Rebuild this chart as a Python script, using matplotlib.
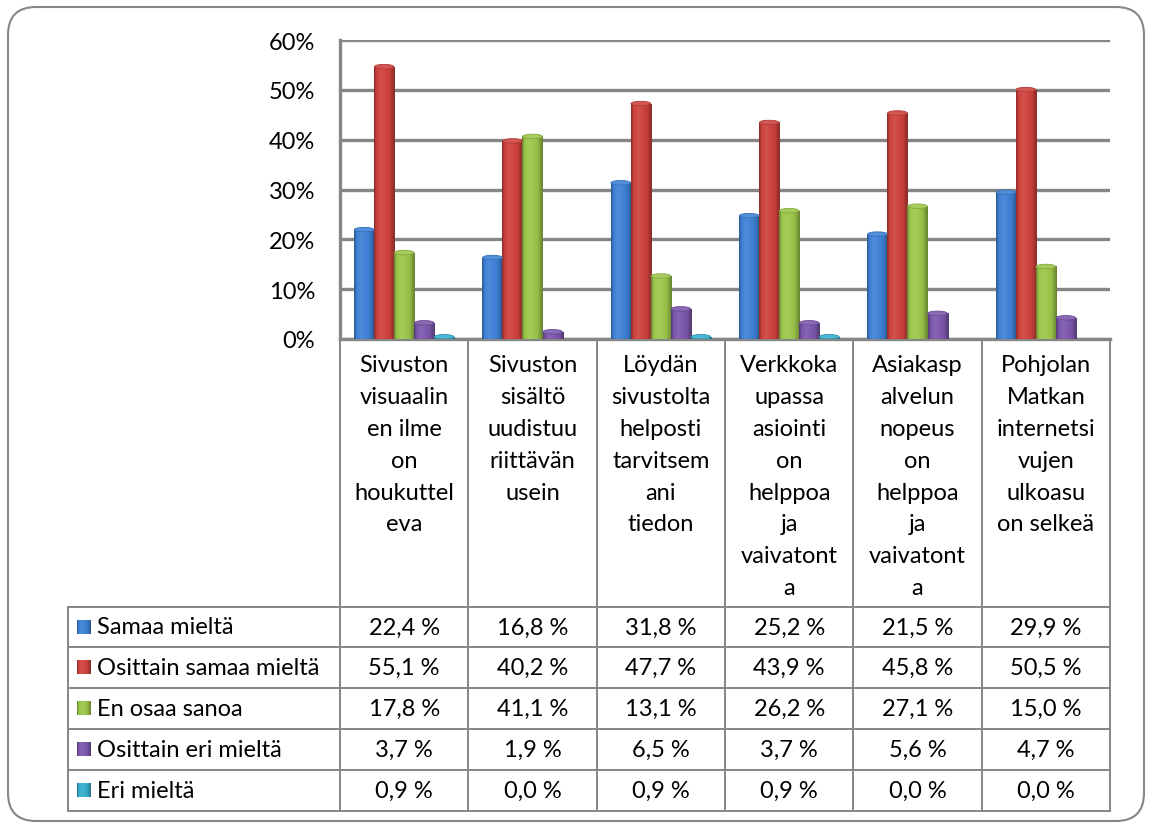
import numpy as np
import matplotlib.pyplot as plt
from matplotlib.patches import FancyBboxPatch, Ellipse
from matplotlib.colors import to_rgb

plt.rcParams['font.family'] = ['Lato', 'DejaVu Sans']

categories = [
    "Sivuston\nvisuaalin\nen ilme\non\nhoukuttel\neva",
    "Sivuston\nsisältö\nuudistuu\nriittävän\nusein",
    "Löydän\nsivustolta\nhelposti\ntarvitsem\nani\ntiedon",
    "Verkkoka\nupassa\nasiointi\non\nhelppoa\nja\nvaivatont\na",
    "Asiakasp\nalvelun\nnopeus\non\nhelppoa\nja\nvaivatont\na",
    "Pohjolan\nMatkan\ninternetsi\nvujen\nulkoasu\non selkeä",
]
series_names = ["Samaa mieltä", "Osittain samaa mieltä", "En osaa sanoa",
                "Osittain eri mieltä", "Eri mieltä"]
samaa = [22.4, 16.8, 31.8, 25.2, 21.5, 29.9]
osittain_samaa = [55.1, 40.2, 47.7, 43.9, 45.8, 50.5]
en_osaa = [17.8, 41.1, 13.1, 26.2, 27.1, 15.0]
osittain_eri = [3.7, 1.9, 6.5, 3.7, 5.6, 4.7]
eri = [0.9, 0.0, 0.9, 0.9, 0.0, 0.0]
series = [samaa, osittain_samaa, en_osaa, osittain_eri, eri]
colors = ['#3F82D6', '#CF433E', '#9DC64B', '#7D58AD', '#38AECD']
yticks = [0, 10, 20, 30, 40, 50, 60]

W, H = 1152, 828
x0, x1 = 340, 1110          # plot area / table columns
ytop, ybot = 41, 340        # plot area
tab_left = 68
row_edges = [608, 648, 689, 730, 771, 812]
grey = '#868686'
fs = 17


def shade(c, f):
    c = np.array(to_rgb(c))
    if f >= 0:
        return c + (1 - c) * f
    return c * (1 + f)


def gradient(c, n=64):
    t = np.linspace(0, 1, n)
    # darker edges, slight highlight left of centre
    f = np.interp(t, [0, 0.12, 0.35, 0.75, 1.0], [-0.35, -0.02, 0.08, -0.05, -0.35])
    return np.array([[shade(c, v) for v in f]])


fig = plt.figure(figsize=(W / 100, H / 100), dpi=100)
bg = fig.add_axes([0, 0, 1, 1])
bg.set_xlim(0, W)
bg.set_ylim(H, 0)
bg.axis('off')

# outer rounded frame
bg.add_patch(FancyBboxPatch((8, 8), W - 16, H - 14,
                            boxstyle="round,pad=0,rounding_size=28",
                            fc='white', ec=grey, lw=1.5, zorder=0))

ax = fig.add_axes([x0 / W, 1 - ybot / H, (x1 - x0) / W, (ybot - ytop) / H])
ax.set_xlim(0, len(categories))
ax.set_ylim(0, 60)
ax.patch.set_alpha(0)
ax.set_yticks(yticks)
ax.set_yticklabels([f"{v}%" for v in yticks], fontsize=fs)
ax.tick_params(axis='y', length=0, pad=18)
ax.set_xticks([])
ax.yaxis.grid(True, color=grey, lw=2.4)
ax.set_axisbelow(True)
for s in ['top', 'right']:
    ax.spines[s].set_visible(False)
for s in ['left', 'bottom']:
    ax.spines[s].set_color(grey)
    ax.spines[s].set_linewidth(2.4)

bw = 0.156
cap = 0.9
xc = np.arange(len(categories)) + 0.5
for i, (vals, col) in enumerate(zip(series, colors)):
    xs = xc + (i - 2) * bw
    tops = [max(v - cap / 2, 0) for v in vals]
    bars = ax.bar(xs, tops, width=bw, color=col, zorder=3, lw=0)
    img = gradient(col)
    for b, v, t in zip(bars, vals, tops):
        if v <= 0:
            continue
        bx, w = b.get_x(), b.get_width()
        im = ax.imshow(img, extent=[bx, bx + w, 0, t], aspect='auto',
                       zorder=4, interpolation='bilinear')
        im.set_clip_path(b)
        ax.add_patch(Ellipse((bx + w / 2, t), w * 0.98, cap,
                             fc=shade(col, 0.1), ec=shade(col, -0.15),
                             lw=0.6, zorder=5))

# table lines
lw = 1.4
for k in range(len(categories) + 1):
    x = x0 + k * (x1 - x0) / len(categories)
    bg.plot([x, x], [ybot, row_edges[-1]], color=grey, lw=lw, zorder=2)
bg.plot([tab_left, tab_left], [row_edges[0], row_edges[-1]], color=grey, lw=lw)
for y in row_edges:
    bg.plot([tab_left, x1], [y, y], color=grey, lw=lw)

colw = (x1 - x0) / len(categories)
for k, lab in enumerate(categories):
    bg.text(x0 + (k + 0.5) * colw, 355, lab, ha='center', va='top',
            fontsize=fs, linespacing=1.64)

for r, (name, vals, col) in enumerate(zip(series_names, series, colors)):
    yc = (row_edges[r] + row_edges[r + 1]) / 2
    bg.imshow(gradient(col), extent=[77, 91, yc + 7, yc - 7], aspect='auto',
              zorder=3)
    bg.text(97, yc, name, ha='left', va='center', fontsize=fs)
    for k, v in enumerate(vals):
        bg.text(x0 + (k + 0.5) * colw, yc, f"{v:.1f} %".replace('.', ','),
                ha='center', va='center', fontsize=fs)
bg.set_xlim(0, W)
bg.set_ylim(H, 0)

fig.savefig('out.png', dpi=100)
